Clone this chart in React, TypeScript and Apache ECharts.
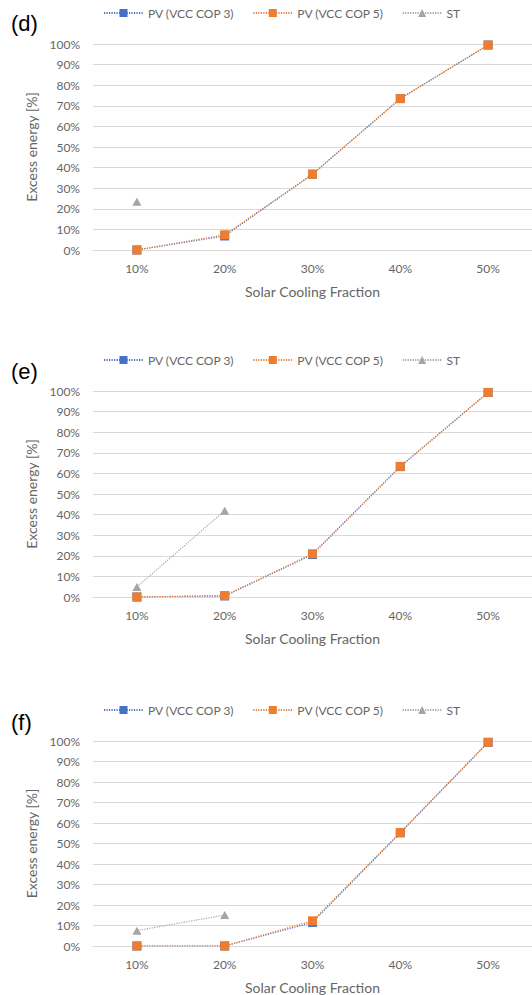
import React, { useEffect, useRef } from "react";
import * as echarts from "echarts";

const categories = ["10%", "20%", "30%", "40%", "50%"];
const seriesNames = ["PV (VCC COP 3)", "PV (VCC COP 5)", "ST"];
const panelLabels = ["(d)", "(e)", "(f)"];
const yTicks = [0, 10, 20, 30, 40, 50, 60, 70, 80, 90, 100];

// Panel (d)
const dCop3 = [0, 6.8, 36.8, 73.5, 99.5];
const dCop5 = [0, 7.4, 36.8, 73.5, 99.5];
const dST = [23.4, null, null, null, null];
// Panel (e)
const eCop3 = [0, 0.5, 20.6, 63.3, 99.3];
const eCop5 = [0, 0.7, 21, 63.4, 99.3];
const eST = [4.9, 41.9, null, null, null];
// Panel (f)
const fCop3 = [0, 0, 11.5, 55.2, 99.3];
const fCop5 = [0, 0, 12.3, 55.4, 99.4];
const fST = [7.5, 15.1, null, null, null];

const panels = [
  [dCop3, dCop5, dST],
  [eCop3, eCop5, eST],
  [fCop3, fCop5, fST],
];

const colors = ["#4472C4", "#ED7D31", "#A5A5A5"];
const symbols = ["rect", "rect", "triangle"];

export default function App() {
  const ref = useRef<HTMLDivElement>(null);
  useEffect(() => {
    if (!ref.current) return;
    const chart = echarts.init(ref.current, null, { renderer: "svg" });
    const gridTops = [44, 391, 741];
    const gridHeight = 206;
    const legendTops = [2, 349, 699];
    const labelYs = [24, 372, 723];
    const font = "Lato";
    const textColor = "#666666";

    const grids = gridTops.map((t) => ({
      left: 93,
      right: -9,
      top: t,
      height: gridHeight,
      containLabel: false,
    }));

    const xAxes = gridTops.map((_, i) => ({
      type: "category",
      gridIndex: i,
      data: categories,
      boundaryGap: true,
      axisLine: { show: true, lineStyle: { color: "#D9D9D9", width: 1 } },
      axisTick: { show: false },
      axisLabel: { color: textColor, fontFamily: font, fontSize: 12, margin: 12 },
      name: "Solar Cooling Fraction",
      nameLocation: "middle",
      nameGap: 34,
      nameTextStyle: { color: textColor, fontFamily: font, fontSize: 14 },
    }));

    const yAxes = gridTops.map((_, i) => ({
      type: "value",
      gridIndex: i,
      min: yTicks[0],
      max: yTicks[yTicks.length - 1],
      interval: 10,
      axisLine: { show: false },
      axisTick: { show: false },
      axisLabel: {
        color: textColor,
        fontFamily: font,
        fontSize: 12,
        margin: 13,
        formatter: "{value}%",
      },
      splitLine: { lineStyle: { color: "#D9D9D9", width: 1 } },
      name: "Excess energy [%]",
      nameLocation: "middle",
      nameGap: 45,
      nameRotate: 90,
      nameTextStyle: { color: textColor, fontFamily: font, fontSize: 14 },
    }));

    const series: any[] = [];
    panels.forEach((panel, pi) => {
      panel.forEach((vals, si) => {
        series.push({
          type: "line",
          name: seriesNames[si],
          xAxisIndex: pi,
          yAxisIndex: pi,
          data: vals,
          symbol: symbols[si],
          symbolSize: si === 2 ? [9, 8] : 9,
          showSymbol: true,
          connectNulls: false,
          z: 2 + si,
          itemStyle: { color: colors[si] },
          lineStyle: {
            color: colors[si],
            width: 1.2,
            type: [1.2, 1.3],
          },
        });
      });
    });

    const legends = legendTops.map((t) => ({
      top: t,
      left: 98,
      itemWidth: 39,
      itemHeight: 10,
      itemGap: 18,
      data: seriesNames,
      selectedMode: false,
      textStyle: { color: textColor, fontFamily: font, fontSize: 12 },
    }));

    chart.setOption({
      animation: false,
      backgroundColor: "#ffffff",
      grid: grids,
      xAxis: xAxes,
      yAxis: yAxes,
      legend: legends,
      series,
      graphic: labelYs.map((y, i) => ({
        type: "text",
        left: 11,
        top: y - 12,
        style: {
          text: panelLabels[i],
          fill: "#000000",
          font: "22px 'Liberation Sans', Arial, sans-serif",
        },
      })),
    });
    return () => chart.dispose();
  }, []);

  return (
    <div
      ref={ref}
      style={{ position: "absolute", left: 0, top: 0, width: 532, height: 995 }}
    />
  );
}
